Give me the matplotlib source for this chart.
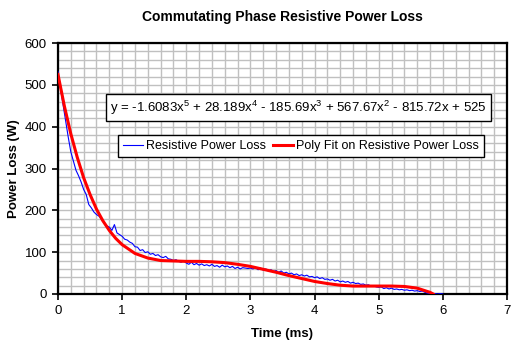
import numpy as np
import matplotlib
matplotlib.use("Agg")
import matplotlib.pyplot as plt
from matplotlib.ticker import MultipleLocator

plt.rcParams["font.family"] = ["Liberation Sans", "DejaVu Sans"]
plt.rcParams["mathtext.fontset"] = "custom"
plt.rcParams["mathtext.rm"] = "Liberation Sans"
plt.rcParams["mathtext.it"] = "Liberation Sans"

# --- measured resistive power loss, sampled every 0.04 ms ---
time_ms = np.round(np.arange(0, 6.001, 0.04), 2)
power_w = [
    532, 490, 452, 415, 375, 340, 318, 296, 283, 268,
    250, 238, 214, 206, 196, 190, 186, 178, 171, 163,
    160, 152, 166, 146, 142, 138, 131, 129, 124, 121,
    113, 112, 104, 106, 99, 101, 95, 97, 92, 94,
    89, 87, 90, 84, 83, 80, 82, 78, 76, 79,
    74, 71, 76, 70, 73, 69, 72, 68, 70, 67,
    71, 66, 68, 64, 69, 65, 67, 63, 66, 61,
    64, 60, 63, 62, 61, 62, 60, 63, 58, 62,
    57, 60, 55, 58, 54, 56, 52, 55, 50, 52,
    48, 50, 46, 48, 44, 46, 43, 45, 41, 42,
    39, 41, 37, 39, 35, 36, 33, 35, 31, 33,
    29, 31, 28, 30, 26, 28, 25, 26, 23, 24,
    21, 22, 19, 20, 17, 16, 17, 13, 15, 12,
    14, 11, 12, 10, 11, 9, 10, 8, 9, 7,
    8, 6, 7, 4, 2, 1, 0, 1, 0, 1,
    0,
]

# --- polynomial fit curve ---
fit_time = [0, 0.1, 0.2, 0.3, 0.4, 0.5, 0.6, 0.7, 0.8, 0.9, 1.0,
            1.2, 1.4, 1.6, 1.8, 2.0, 2.2, 2.4, 2.6, 2.8, 3.0,
            3.2, 3.4, 3.6, 3.8, 4.0, 4.2, 4.4, 4.6, 4.8, 5.0,
            5.2, 5.4, 5.6, 5.8, 5.85]
fit_power = [525, 449, 383, 327, 278, 238, 203, 175, 152, 133, 118,
             97, 86, 80, 79, 78, 78, 77, 75, 71, 66,
             59, 52, 44, 37, 30, 25, 21, 19, 19, 19,
             19, 18, 14, 4, 0]

equation = (r"y = -1.6083x$^{5}$ + 28.189x$^{4}$ - 185.69x$^{3}$"
            r" + 567.67x$^{2}$ - 815.72x + 525")

fig = plt.figure(figsize=(5.2, 3.5), dpi=100)
ax = fig.add_axes([0.1115, 0.16, 0.8635, 0.717])

ax.plot(time_ms, power_w, color="#0000ff", lw=0.8,
        label="Resistive Power Loss", zorder=3)
ax.plot(fit_time, fit_power, color="#ff0000", lw=2.2,
        label="Poly Fit on Resistive Power Loss", zorder=4)

ax.set_xlim(0, 7)
ax.set_ylim(0, 600)
ax.xaxis.set_major_locator(MultipleLocator(1))
ax.xaxis.set_minor_locator(MultipleLocator(0.2))
ax.yaxis.set_major_locator(MultipleLocator(100))
ax.yaxis.set_minor_locator(MultipleLocator(20))
ax.grid(True, which="both", color="#c0c0c0", lw=1.0)
ax.set_axisbelow(True)
ax.tick_params(which="major", direction="out", length=4, width=1.2,
               labelsize=9.5, pad=4)
ax.tick_params(which="minor", length=0)
for s in ax.spines.values():
    s.set_linewidth(1.6)
    s.set_color("black")

ax.set_xlabel("Time (ms)", fontsize=9.5, fontweight="bold", labelpad=8)
ax.set_ylabel("Power Loss (W)", fontsize=9.5, fontweight="bold", labelpad=3)
fig.text(0.544, 0.95, "Commutating Phase Resistive Power Loss",
         ha="center", va="center", fontsize=10, fontweight="bold")

ax.text(0.5356, 0.743, equation, transform=ax.transAxes, ha="center",
        va="center", fontsize=9.5, zorder=6,
        bbox=dict(boxstyle="square,pad=0.35", fc="white", ec="black", lw=1))

leg = ax.legend(loc="center", bbox_to_anchor=(0.541, 0.588), ncol=2,
                fontsize=9, frameon=True, fancybox=False, handlelength=1.6,
                handletextpad=0.25, columnspacing=0.5, borderpad=0.4,
                borderaxespad=0)
leg.get_frame().set_edgecolor("black")
leg.get_frame().set_linewidth(1)
leg.get_frame().set_alpha(1)
leg.set_zorder(6)

fig.savefig("out.png", dpi=100)
